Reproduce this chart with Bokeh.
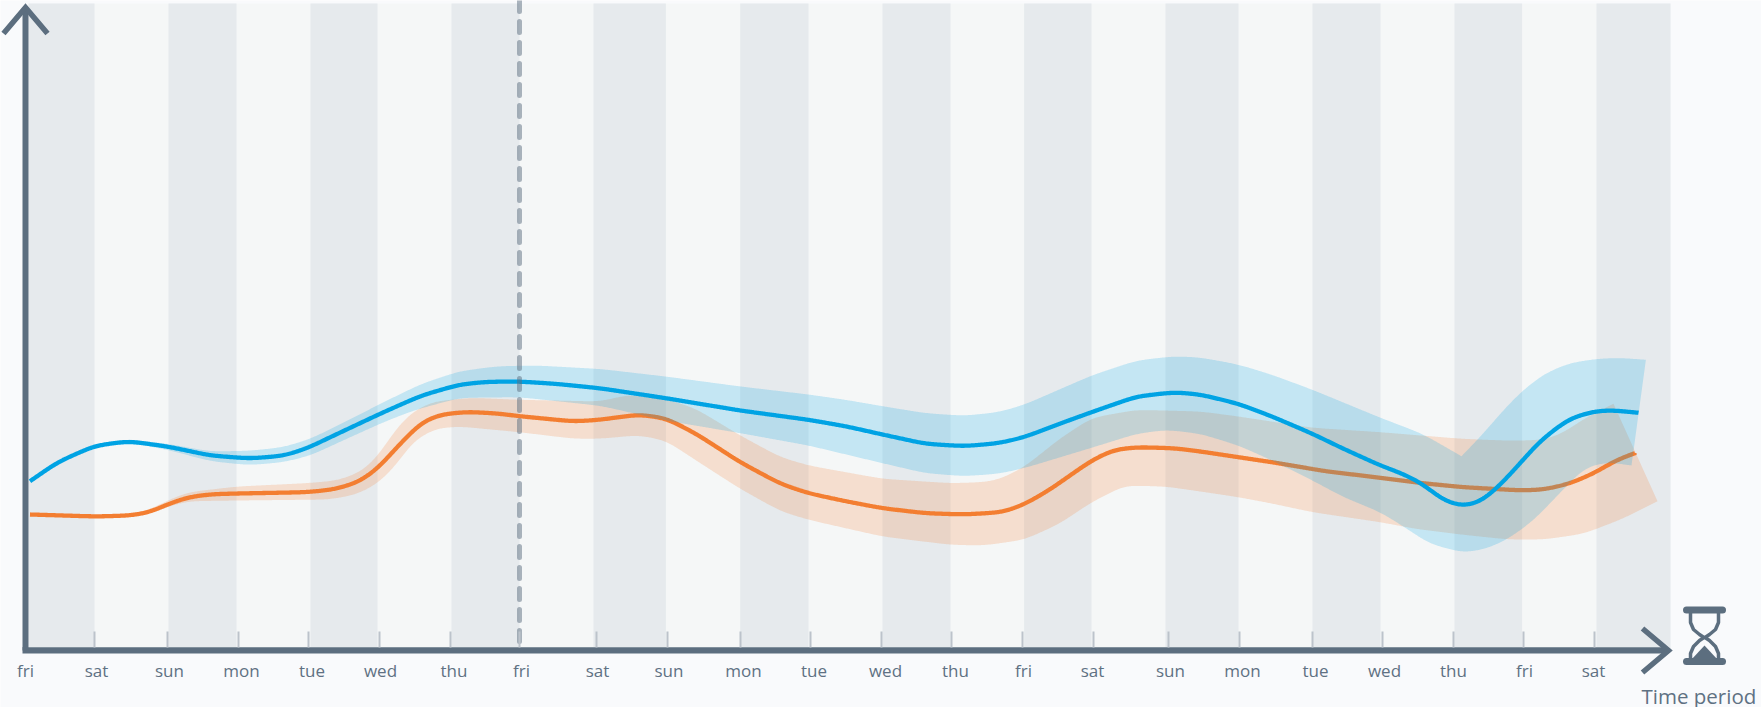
import numpy as np
from bokeh.plotting import figure
from bokeh.models import LinearAxis, FixedTicker, Range1d
from bokeh.embed import file_html
from bokeh.resources import INLINE
from bokeh.core.properties import value

tick_labels = ["fri","sat","sun","mon","tue","wed","thu","fri","sat","sun","mon","tue","wed","thu","fri","sat","sun","mon","tue","wed","thu","fri","sat"]
label_x = [25,96,169,241,311.5,380,453.5,521,597,668.5,743,813.5,885,955,1023,1092,1170,1242,1315,1384,1453,1524,1593]
tick_x = [94,167,238,308,379,450,519,596,666.6,739.7,810,880.5,951,1022,1093,1168,1238.6,1311.6,1382,1452.6,1523,1594]
band_start = [28,168,310,451,593,739.7,882,1023.6,1165,1312,1454,1596]
band_end = [94,236,377,519,665.4,808,950,1091,1238,1380,1521.6,1670]

blue_x = [29.5,57,94,128,167,210,249,283,306,344,383,421,459,486,519,555,600,665.4,739.7,808,845,882,925,963.6,998,1023.6,1059,1091,1136,1174,1200,1238,1271.6,1312,1343,1380,1404,1422,1443,1463,1482.6,1504,1540,1568.5,1593.6,1611.4,1638]
blue_y = [480.7,461.7,445.3,440.7,446,455,458,455.3,448,430,411.7,395,384,381.3,381,383.3,387.8,397.7,410,419.3,425.7,434,443.3,445.7,442.7,436.7,423.3,411.7,396,391.7,394,403.3,416,433.3,448.3,465,474,483.3,500,506,500,480,440,418.3,410.7,409.7,412.3]

orange_x = [29.5,95.7,130,149,168.4,187.5,210.5,237,306,333,358,377,398,421,440,467,497.5,519,574,600,638,665.4,695.7,739.7,780,808,845,882,925,963.6,1002,1023.6,1048,1091,1113,1136,1174,1200,1238,1271.6,1325,1380,1422,1463,1522,1543.5,1568.5,1593.6,1615,1634.7]
orange_y = [514,516,515,511.7,503.3,496.7,493.7,493,491.7,489,481.7,468.3,445,421.7,414,411.3,413,415.7,421,419.2,414,417.7,433.3,461.7,483.3,492.7,500.7,507.7,512.7,514,511.7,504,490,460,449.3,446.7,447.7,451,456.7,461.7,470.7,477.3,482.7,486.7,490,489,483.3,472.7,460,452.3]

blue_up_x = [128,167,210,249,283,310,344,383,421,459,497.5,536,600,665,740,808,845,882,925,963.6,998,1023.6,1091,1136,1174,1200,1238,1271.6,1312,1380,1422,1461]
blue_up_y = [439,443.3,451,450.3,446.7,438.3,421.7,401.7,383.3,370.7,365.7,365,368.5,376,386,394,399.3,405.7,412.7,415.3,411.7,404.3,375,360,355.7,357,364,374.3,389.3,417.3,433.3,455.7]
blue_up2_x = [1461,1482.6,1504,1522,1543.5,1568.5,1596,1618.6,1645.4]
blue_up2_y = [455.7,433.3,408.3,390,373.3,362.7,358.3,357.3,359.3]
blue_lo_x = [128,167,210,249,283,310,344,383,413,459,519,600,665,740,808,882,925,963.6,998,1023.6,1091,1136,1166,1200,1238,1271.6,1312,1343,1380,1404,1429,1463,1486,1508,1533,1565,1579,1590,1608,1631]
blue_lo_y = [442,449.3,460.7,464.7,461.7,455,439.3,421.7,410,397.3,396.7,405.3,420,432.7,445,462.7,472.7,475.7,473.3,467.7,447.3,433.3,429.3,433.3,445,460,480,496.7,511.7,526.7,543.3,552.3,548.3,538.3,520,486.7,471.7,465,461.7,465]

orange_up_x = [130,149,168.4,187.5,237,306,337,360,377,394,411,432.5,471,519,600,627,665.4,695.7,739.7,780,808,882,950,983,998,1023.6,1059,1091,1136,1200,1238,1312,1380,1461,1511,1543.5,1561,1586,1613]
orange_up_y = [514,509.3,499.3,491.7,486,482.7,480,471.7,456.7,430,411.7,401,397.3,399.3,401,394.3,398.3,408.3,435,456.7,465,478.3,482.7,481.7,479.3,466.7,438.3,417.3,409.3,411,416,427.3,431.7,438.3,440.3,439.3,433.3,416.7,403.3]
orange_tip_x = [1613,1657]
orange_tip_y = [403.3,500.7]
orange_lo_x = [130,149,168.4,187.5,237,329,356,377,394,413,436,459,519,574,600,638,665.4,695.7,739.7,780,808,882,950,983,1023.6,1059,1091,1124,1165,1200,1238,1268,1312,1380,1414.7,1463,1508,1543.5,1583,1622,1657]
orange_lo_y = [516.7,514,505.7,500.7,500,499,494,483.3,466.7,440,427.7,426,431.7,438.3,438.2,434.7,440,460,488.3,510.7,519.3,536,544.3,545,539.3,523.3,501.7,485,486,491,496.7,502.3,511.7,521.7,528.3,534.3,539,539,533.3,518.3,500.7]

BG, PANEL, DARK = "#f9fafc", "#f5f7f7", "#e6eaed"
AXIS = "#5c6e7f"
BLUE, ORANGE = "#00a3e4", "#f37e31"
FONT = "Open Sans"


def smooth(x, y, sigma=8.0):
    """Draw a soft curve through the read points: 1-unit sampling, then a gaussian."""
    x, y = np.asarray(x, float), np.asarray(y, float)
    gx = np.arange(x[0], x[-1], 1.0)
    gx = np.append(gx, x[-1])
    gy = np.interp(gx, x, y)
    r = int(3 * sigma)
    k = np.exp(-0.5 * (np.arange(-r, r + 1) / sigma) ** 2)
    k /= k.sum()
    head = 2 * gy[0] - gy[r:0:-1]
    tail = 2 * gy[-1] - gy[-2:-r - 2:-1]
    out = np.convolve(np.concatenate([head, gy, tail]), k, mode="valid")
    return gx, out


p = figure(width=1761, height=707, output_backend="svg", toolbar_location=None,
           x_range=Range1d(0, 1761), y_range=Range1d(707, 0),
           min_border=0, min_border_left=0, min_border_right=0, min_border_top=0, min_border_bottom=0,
           background_fill_color=BG, border_fill_color=BG, outline_line_color=None,
           x_axis_type=None, y_axis_type=None)
p.grid.visible = False
p.margin = (0, 0, 0, 0)

# weekly striped panel
p.quad(left=[28], right=[1670], top=[3], bottom=[650], fill_color=PANEL, line_color=None)
p.quad(left=band_start, right=band_end, top=3, bottom=650, fill_color=DARK, line_color=None)

# orange band and line
ux, uy = smooth(orange_up_x, orange_up_y)
lx, ly = smooth(orange_lo_x, orange_lo_y)
p.patch(np.concatenate([ux, orange_tip_x, lx[::-1]]), np.concatenate([uy, orange_tip_y, ly[::-1]]),
        fill_color=ORANGE, fill_alpha=0.2, line_color=None)
x, y = smooth(orange_x, orange_y)
p.line(x, y, line_color=ORANGE, line_width=4.3)

# blue band and line
ux, uy = smooth(blue_up_x, blue_up_y)
u2x, u2y = smooth(blue_up2_x, blue_up2_y)
lx, ly = smooth(blue_lo_x, blue_lo_y)
p.patch(np.concatenate([ux, u2x, lx[::-1]]), np.concatenate([uy, u2y, ly[::-1]]),
        fill_color=BLUE, fill_alpha=0.2, line_color=None)
x, y = smooth(blue_x, blue_y)
p.line(x, y, line_color=BLUE, line_width=4.3)

# "now" marker
p.line([519, 519], [0, 651], line_color=AXIS, line_alpha=0.5, line_width=5, line_dash="11 10", line_cap="round")

# tick marks and labels on real axes
tick_axis = LinearAxis(fixed_location=647, ticker=FixedTicker(ticks=tick_x),
                       axis_line_color=None, major_tick_in=16, major_tick_out=0,
                       major_tick_line_color="#bcc3cb", major_tick_line_width=2,
                       minor_tick_line_color=None, major_label_text_font_size="0px",
                       major_label_text_color=None)
p.add_layout(tick_axis, "below")

label_axis = LinearAxis(fixed_location=650, ticker=FixedTicker(ticks=label_x),
                        axis_line_color=None, major_tick_line_color=None, minor_tick_line_color=None,
                        major_label_overrides={float(v) if v != int(v) else int(v): t for v, t in zip(label_x, tick_labels)},
                        major_label_text_font=FONT, major_label_text_font_size="17px",
                        major_label_text_color="#5f7183", major_label_standoff=2)
p.add_layout(label_axis, "below")

# axis rules with arrow heads
p.line([22, 1667], [647, 647], line_color="#a9b4bd", line_width=1)
p.line([22, 1667], [650, 650], line_color=AXIS, line_width=6)
p.line([25, 25], [650, 8], line_color=AXIS, line_width=6)
p.line([3, 25, 47], [33, 7, 33], line_color=AXIS, line_width=5.5, line_join="miter")
p.line([1642, 1668, 1642], [628, 650, 672], line_color=AXIS, line_width=5.5, line_join="miter")

# hourglass icon
p.line([1686, 1722], [609.5, 609.5], line_color=AXIS, line_width=7, line_cap="round")
p.line([1686, 1722], [661, 661], line_color=AXIS, line_width=7, line_cap="round")
p.line([1690, 1690, 1693, 1699, 1703.5, 1699, 1693, 1690, 1690],
       [612, 622, 629, 634, 637, 640, 646, 653, 659], line_color=AXIS, line_width=3.5)
p.line([1718, 1718, 1715, 1709, 1704.5, 1709, 1715, 1718, 1718],
       [612, 622, 629, 634, 637, 640, 646, 653, 659], line_color=AXIS, line_width=3.5)
p.patch([1691, 1704, 1717], [659, 645, 659], fill_color=AXIS, line_color=None)

p.text([1641], [695], text=["Time period"], text_font=value(FONT), text_font_size="20.5px",
       text_color="#5f7183", text_baseline="alphabetic", text_align="left")

open("out.html", "w").write(file_html(p, INLINE))
